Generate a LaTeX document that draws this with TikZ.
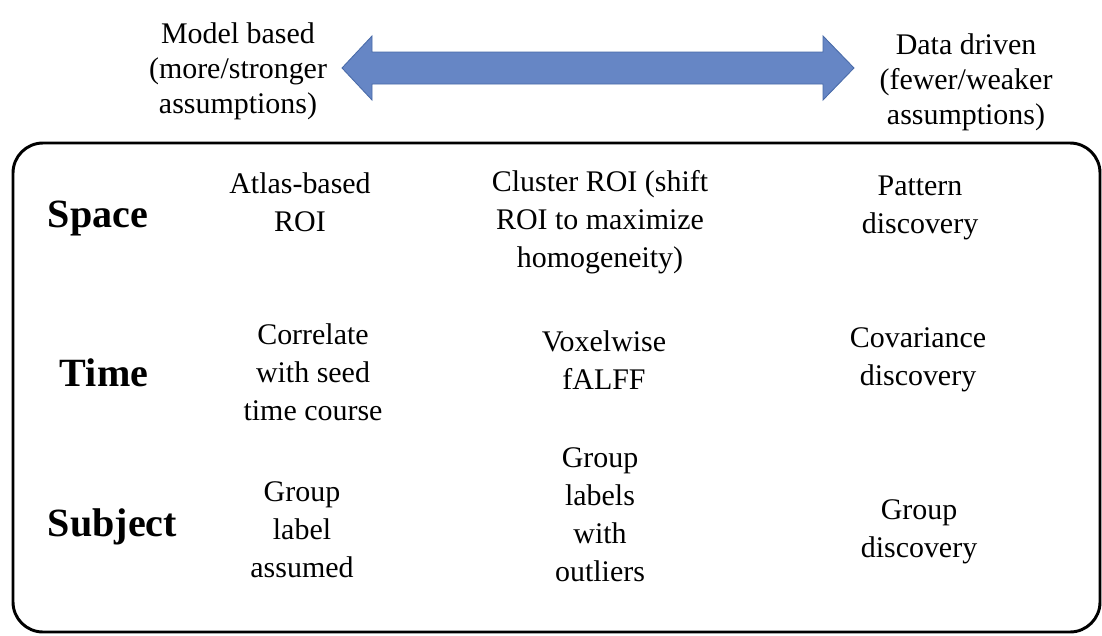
\documentclass[tikz,border=0pt]{standalone}
\usepackage{fontspec}
\setmainfont{Liberation Serif}
\usepackage{tikz}
\usetikzlibrary{calc}
\usepackage{xcolor}
\definecolor{arrowblue}{RGB}{102,134,197}
\definecolor{arrowedge}{RGB}{72,106,168}

\begin{document}
\begin{tikzpicture}[
		cell/.style={align=center, font=\fontsize{21.3}{27}\selectfont},
		rowlabel/.style={anchor=west, font=\fontsize{28.5}{34}\selectfont\bfseries},
		endlabel/.style={align=center, font=\fontsize{21.3}{25}\selectfont}]
		\useasboundingbox (0,0) rectangle (27.55,-15.875);
		% double arrow on top
		\draw[fill=arrowblue, draw=arrowedge, line width=0.6pt]
			(8.55,-1.7) -- (9.3,-0.9) -- (9.3,-1.3) -- (20.575,-1.3) -- (20.575,-0.9)
			-- (21.35,-1.7) -- (20.575,-2.5) -- (20.575,-2.1) -- (9.3,-2.1) -- (9.3,-2.5) -- cycle;
		\node[endlabel] (model) at (5.95,-1.775) {Model based\\(more/stronger\\assumptions)};
		\node[endlabel] (data) at (24.15,-2.05) {Data driven\\(fewer/weaker\\assumptions)};
		% outline
		\draw[line width=2.1pt, rounded corners=0.75cm] (0.325,-3.575) rectangle (27.5,-15.8);
		% rows
		\node[rowlabel] (space) at (1.075,-5.45) {Space};
		\node[rowlabel] (time) at (1.375,-9.325) {Time};
		\node[rowlabel] (subject) at (1.075,-13.175) {Subject};
		% space
		\node[cell] (atlas) at (7.5,-5.05) {Atlas-based\\ROI};
		\node[cell] (cluster) at (15.0,-5.55) {Cluster ROI (shift\\ROI to maximize\\homogeneity)};
		\node[cell] (pattern) at (23.0,-5.2) {Pattern\\discovery};
		% time
		\node[cell] (correlate) at (7.825,-9.3) {Correlate\\with seed\\time course};
		\node[cell] (voxelwise) at (15.1,-9.0) {Voxelwise\\fALFF};
		\node[cell] (covariance) at (22.95,-9.0) {Covariance\\discovery};
		% subject
		\node[cell] (grouplabel) at (7.55,-13.25) {Group\\label\\assumed};
		\node[cell] (outliers) at (15.0,-12.875) {Group\\labels\\with\\outliers};
		\node[cell] (groupdisc) at (22.975,-13.3) {Group\\discovery};
	\end{tikzpicture}
\end{document}
